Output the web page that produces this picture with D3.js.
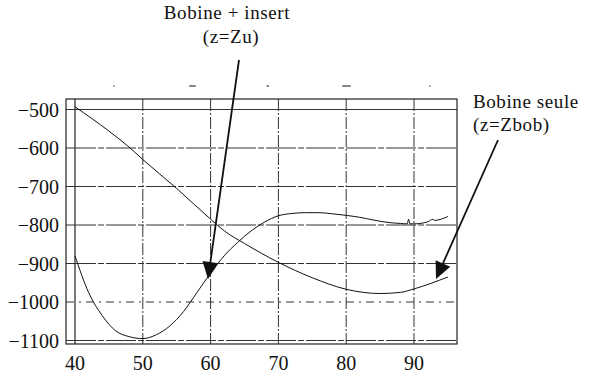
<!DOCTYPE html>
<html><head><meta charset="utf-8">
<script src="https://cdn.jsdelivr.net/npm/d3@7/dist/d3.min.js"></script>
<style>body{margin:0;background:#fff}svg{display:block}</style>
</head><body><svg id="c" width="589" height="375"></svg>
<script>
const xTicks = [40, 50, 60, 70, 80, 90];
const yTicks = [-500, -600, -700, -800, -900, -1000, -1100];
const zuX = [40, 42, 44, 46, 48, 50, 52, 54, 56, 58, 60, 62, 64, 66, 68, 70, 72, 74, 76, 78, 80, 82, 84, 86, 88, 89, 89.2, 89.4, 90, 92, 92.8, 93, 95];
const zuY = [-880, -975, -1035, -1075, -1090, -1095, -1085, -1062, -1025, -975, -925, -880, -845, -815, -792, -776, -770, -768, -768, -771, -775, -780, -787, -793, -796, -797, -785, -797, -797, -792, -785, -788, -778];
const zbobX = [40, 45, 48, 50, 55, 60, 62, 65, 70, 75, 80, 85, 88, 90, 95];
const zbobY = [-493, -556, -598, -630, -705, -785, -815, -848, -897, -937, -967, -978, -975, -966, -935];
const labels = {zu: ["Bobine + insert", "(z=Zu)"], zbob: ["Bobine seule", "(z=Zbob)"]};
const FONT = "'Liberation Serif'";

const svg = d3.select("#c");
const x = d3.scaleLinear().domain([40, 90]).range([75, 414]);
const y = d3.scaleLinear().domain([-1100, -500]).range([340.5, 109.5]);
const pL = 66, pR = 457, pT = 99, pB = 344;

// grid
svg.append("g").selectAll("line").data(yTicks).join("line")
  .attr("x1", pL).attr("x2", pR).attr("y1", d => y(d)).attr("y2", d => y(d))
  .attr("stroke", "#333").attr("stroke-width", 1)
  .attr("stroke-dasharray", d => d === -1000 ? "8,5,2,5" : (d === -500 ? null : "30,2,6,2"));
svg.append("g").selectAll("line").data(xTicks).join("line")
  .attr("x1", d => x(d)).attr("x2", d => x(d)).attr("y1", pT).attr("y2", pB)
  .attr("stroke", "#333").attr("stroke-width", d => d === 40 ? 1.3 : 1)
  .attr("stroke-dasharray", d => d === 40 ? null : "12,2,2,2");
// frame
svg.append("rect").attr("x", pL).attr("y", pT).attr("width", pR - pL).attr("height", pB - pT)
  .attr("fill", "none").attr("stroke", "#222").attr("stroke-width", 1.2);

// top stray ticks
const topMarks = [[45.7, 1], [57.3, 6], [68.4, 2], [80, 8], [92.3, 1]];
svg.append("g").selectAll("line").data(topMarks).join("line")
  .attr("x1", d => x(d[0]) - d[1] / 2).attr("x2", d => x(d[0]) + d[1] / 2 + 0.5)
  .attr("y1", 86).attr("y2", 86).attr("stroke", "#333").attr("stroke-width", 1.2);

// tick labels
svg.append("g").selectAll("text").data(yTicks).join("text")
  .attr("x", 59).attr("y", d => y(d) + 7).attr("text-anchor", "end")
  .attr("font-family", FONT).attr("font-size", 20).attr("fill", "#111")
  .text(d => d3.format("")(d).replace("-", "\u2212"));
svg.append("g").selectAll("text").data(xTicks).join("text")
  .attr("x", d => x(d)).attr("y", 370).attr("text-anchor", "middle")
  .attr("font-family", FONT).attr("font-size", 20).attr("fill", "#111").text(d => d);

// curves
const line = d3.line().x(d => x(d[0])).y(d => y(d[1])).curve(d3.curveMonotoneX);
svg.append("path").datum(zuX.map((v, i) => [v, zuY[i]])).attr("d", line)
  .attr("fill", "none").attr("stroke", "#111").attr("stroke-width", 1);
svg.append("path").datum(zbobX.map((v, i) => [v, zbobY[i]])).attr("d", line)
  .attr("fill", "none").attr("stroke", "#111").attr("stroke-width", 1);

// annotations
function arrow(x1, y1, x2, y2) {
  const a = Math.atan2(y2 - y1, x2 - x1), L = 17, W = 8;
  const bx = x2 - L * Math.cos(a), by = y2 - L * Math.sin(a);
  svg.append("line").attr("x1", x1).attr("y1", y1).attr("x2", bx).attr("y2", by)
    .attr("stroke", "#111").attr("stroke-width", 1.8);
  svg.append("path").attr("d", `M${x2},${y2}L${bx + W * Math.sin(a)},${by - W * Math.cos(a)}L${bx - W * Math.sin(a)},${by + W * Math.cos(a)}Z`)
    .attr("fill", "#111");
}
function label(tx, ty, s, anchor) {
  svg.append("text").attr("x", tx).attr("y", ty).attr("text-anchor", anchor)
    .attr("font-family", FONT).attr("font-size", 19).attr("letter-spacing", "0.6").attr("fill", "#111").text(s);
}
label(227, 19, labels.zu[0], "middle");
label(231, 43, labels.zu[1], "middle");
arrow(239, 60, 208, 279);
label(473, 108, labels.zbob[0], "start");
label(473, 131, labels.zbob[1], "start");
arrow(498, 140, 436, 279);
</script></body></html>
